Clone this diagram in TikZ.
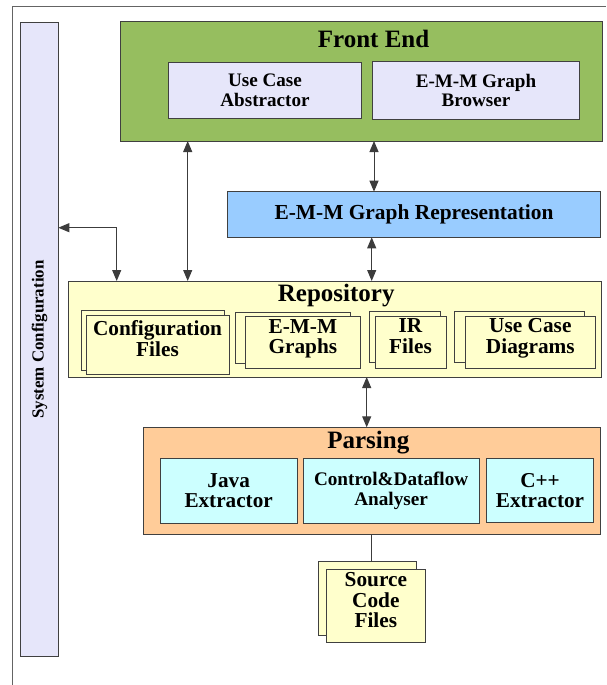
\documentclass[tikz,border=0pt]{standalone}
\usepackage{fontspec}
\setmainfont{Liberation Serif}
\usepackage{graphicx}
\usetikzlibrary{arrows.meta}
\definecolor{fegreen}{RGB}{150,190,95}
\definecolor{lav}{RGB}{230,230,250}
\definecolor{grblue}{RGB}{153,204,255}
\definecolor{repoyel}{RGB}{255,255,204}
\definecolor{parsor}{RGB}{255,204,153}
\definecolor{extcyan}{RGB}{204,255,255}
\definecolor{edgegray}{RGB}{64,64,64}
\definecolor{wiregray}{RGB}{60,60,60}
\definecolor{framegray}{RGB}{100,100,100}
\newcommand{\fsz}[2]{\bfseries\fontsize{#1}{#2}\selectfont}
\newcommand{\mkbox}[7]{\node[#2, minimum width={(#5)-(#3)}, minimum height={(#6)-(#4)}] (#1) at ({((#3)+(#5))/2},{((#4)+(#6))/2}) {#7};}
\tikzset{
  blk/.style={draw=edgegray, line width=1pt, inner sep=0pt, outer sep=0pt, align=center, text=black},
  docbox/.style={blk, fill=repoyel, font={\fsz{21.3}{20.8}}, text depth=12pt},
  ttl/.style={anchor=base, inner sep=0pt, font={\fsz{25}{28}}},
  dbl/.style={draw=wiregray, line width=1pt, {Triangle[length=11pt,width=9pt]}-{Triangle[length=11pt,width=9pt]}},
  link/.style={draw=wiregray, line width=1pt}
}
\begin{document}
\begin{tikzpicture}[x=1pt,y=-1pt]
\useasboundingbox (0,0) rectangle (606,685);
% outer frame
\coordinate (f1) at (12.7,685);
\coordinate (f2) at (12.7,6.3);
\coordinate (f3) at (606,6.3);
\draw[draw=framegray, line width=1pt] (f1) -- (f2) -- (f3);
% system configuration
\mkbox{sys}{blk, fill=lav, font={\fsz{16.9}{19}}}{20.7}{22.3}{58.3}{656.7}{\rotatebox{90}{System Configuration}}
% front end
\mkbox{fe}{blk, fill=fegreen}{120}{21.7}{602.7}{141}{}
\node[ttl] (fetitle) at (373.6,47.7) {Front End};
\mkbox{uca}{blk, fill=lav, font={\fsz{19.1}{19.5}}}{168.3}{62.3}{361.7}{118}{Use Case\\Abstractor}
\mkbox{emmb}{blk, fill=lav, font={\fsz{19.1}{19.5}}}{372.7}{62}{579.3}{119.3}{E-M-M Graph\\Browser}
% graph representation
\mkbox{grep}{blk, fill=grblue, font={\fsz{21.4}{24}}}{227.3}{191.7}{600.7}{237.3}{E-M-M Graph Representation}
% repository
\mkbox{repo}{blk, fill=repoyel}{68.3}{281}{601.7}{377}{}
\node[ttl] (repotitle) at (336.2,301.5) {Repository};
\mkbox{cfgb}{docbox}{81.7}{310.7}{224.7}{370}{}
\mkbox{cfg}{docbox}{86}{315}{229}{374}{Configuration\\Files}
\mkbox{emmgb}{docbox}{235}{312.3}{350.7}{363}{}
\mkbox{emmg}{docbox}{245}{316.7}{360.7}{368.3}{E-M-M\\Graphs}
\mkbox{irb}{docbox}{369.3}{311.7}{440}{362.7}{}
\mkbox{ir}{docbox}{375}{316}{446}{368.3}{IR\\Files}
\mkbox{ucdb}{docbox}{454.3}{311.7}{584.3}{362.7}{}
\mkbox{ucd}{docbox}{465}{316}{595.7}{368.3}{Use Case\\Diagrams}
% parsing
\mkbox{parse}{blk, fill=parsor}{143.3}{427.3}{600}{534.3}{}
\node[ttl] (parsetitle) at (368.3,448.8) {Parsing};
\mkbox{java}{blk, fill=extcyan, font={\fsz{21.2}{20.7}}}{160}{458.3}{297.3}{523.3}{Java\\Extractor}
\mkbox{cda}{blk, fill=extcyan, font={\fsz{19.2}{19.3}}}{303.3}{458.3}{479}{523.3}{Control\&Dataflow\\Analyser}
\mkbox{cpp}{blk, fill=extcyan, font={\fsz{21.2}{20.7}}}{486.7}{458.3}{593.3}{522.7}{C++\\Extractor}
% source code files
\mkbox{srcb}{docbox}{318.3}{561.7}{416.7}{635}{}
\mkbox{src}{docbox}{326.7}{569.3}{425}{642.7}{Source\\Code\\Files}
% connectors
\coordinate (ax1) at (187.7,0);
\coordinate (ax2) at (374,0);
\coordinate (ax3) at (371.7,0);
\coordinate (ax4) at (366.7,0);
\coordinate (ax5) at (371.7,0);
\coordinate (cc) at (116.7,227.7);
\draw[dbl] (ax1 |- fe.south) -- (ax1 |- repo.north);
\draw[dbl] (ax2 |- fe.south) -- (ax2 |- grep.north);
\draw[dbl] (ax3 |- grep.south) -- (ax3 |- repo.north);
\draw[dbl] (sys.east |- cc) -| (cc |- repo.north);
\draw[dbl] (ax4 |- repo.south) -- (ax4 |- parse.north);
\draw[link] (ax5 |- parse.south) -- (ax5 |- srcb.north);
\end{tikzpicture}
\end{document}
